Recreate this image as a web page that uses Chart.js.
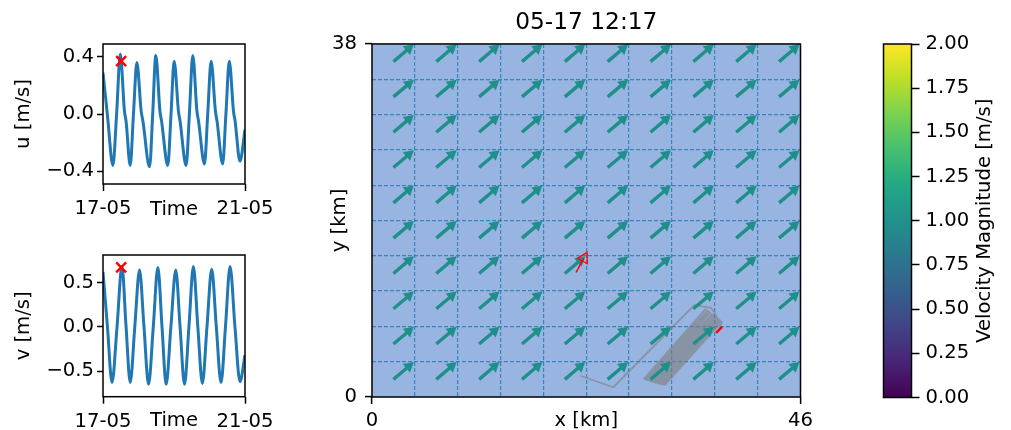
<!DOCTYPE html>
<html>
<head>
<meta charset="utf-8">
<script src="https://cdn.jsdelivr.net/npm/chart.js@4.4.1/dist/chart.umd.min.js"></script>
<style>
  html, body { margin: 0; padding: 0; background: #fff; overflow: hidden; }
  canvas { position: absolute; }
</style>
</head>
<body>
<canvas id="uChart" width="290" height="225" style="left:0px;top:0px"></canvas>
<canvas id="vChart" width="290" height="228" style="left:0px;top:222px"></canvas>
<canvas id="mapChart" width="540" height="450" style="left:300px;top:0px"></canvas>
<canvas id="cbarChart" width="171" height="450" style="left:840px;top:0px"></canvas>
<script>
// Station time series, hours after 17-05 00:00
const uHours = [0, 3.1, 6.7, 9.2, 11.7, 14.5, 15.6, 18.4, 20.6, 22.9, 25.8, 27.0, 31.5, 33.6, 35.7, 38.5, 39.6,
  43.8, 46.0, 48.1, 51.0, 52.1, 56.2, 58.4, 60.7, 63.5, 64.6, 68.6, 70.8, 73.1, 76.0, 77.1, 80.9, 83.1, 85.4,
  88.2, 89.3, 92.6, 96];
const uValues = [0.29, -0.02, -0.36, 0.0, 0.42, 0.02, -0.05, -0.36, 0.0, 0.36, 0.02, -0.05, -0.37, 0.0, 0.41, 0.02, -0.05,
  -0.36, 0.0, 0.37, 0.02, -0.05, -0.36, 0.0, 0.41, 0.02, -0.05, -0.35, 0.0, 0.37, 0.02, -0.05, -0.35, 0.0, 0.37,
  0.02, -0.05, -0.33, -0.11];
const vHours = [0, 3.0, 6.1, 9.5, 12.8, 15.6, 18.4, 21.5, 24.7, 27.7, 30.8, 34.0, 37.1, 39.9, 42.7, 45.9, 49.2,
  52.1, 55.1, 58.1, 61.1, 64.1, 67.2, 70.3, 73.5, 76.6, 79.8, 82.8, 85.9, 89.2, 92.6, 96];
const vValues = [0.62, 0.0, -0.63, 0.0, 0.68, 0.0, -0.63, 0.0, 0.64, 0.0, -0.65, 0.0, 0.67, 0.0, -0.65, 0.0, 0.64,
  0.0, -0.65, 0.0, 0.68, 0.0, -0.64, 0.0, 0.65, 0.0, -0.63, 0.0, 0.68, 0.0, -0.62, -0.32];
const timeTicks = [0, 96];
const timeLabels = ["17-05", "21-05"];
const uTicks = [-0.4, 0, 0.4];
const vTicks = [-0.5, 0, 0.5];
const nowHour = 12.28;
const uNow = 0.37;
const vNow = 0.67;
const frameTitle = "05-17 12:17";

// Map panel (km)
const xGrid = [0, 4.6, 9.2, 13.8, 18.4, 23, 27.6, 32.2, 36.8, 41.4, 46];
const yGrid = [0, 3.8, 7.6, 11.4, 15.2, 19, 22.8, 26.6, 30.4, 34.2, 38];
const quiverX = [2.3, 6.9, 11.5, 16.1, 20.7, 25.3, 29.9, 34.5, 39.1, 43.7];
const quiverY = [1.9, 5.7, 9.5, 13.3, 17.1, 20.9, 24.7, 28.5, 32.3, 36.1];
const fieldU = 0.72;
const fieldV = 0.61;
const stationX = 21.9;
const stationY = 13.4;
const trackX = [22.36, 25.9, 34.6, 36.4, 37.0,
  29.2, 35.8, 29.4, 36.0, 29.6, 36.15, 29.8, 36.3, 30.0, 36.5, 30.2, 36.65, 30.4, 36.8,
  30.6, 36.95, 30.8, 37.1, 31.0, 37.25, 31.2, 37.4, 31.45, 37.55, 37.3];
const trackY = [2.29, 1.05, 9.9, 9.6, 8.7,
  1.95, 9.45, 1.88, 9.3, 1.8, 9.2, 1.72, 9.1, 1.66, 8.95, 1.6, 8.85, 1.54, 8.7,
  1.48, 8.6, 1.43, 8.5, 1.38, 8.38, 1.34, 8.25, 1.3, 8.1, 7.4];
const driftX = [36.94, 37.58];
const driftY = [6.89, 7.54];

// Colour bar
const cbarMin = 0;
const cbarMax = 2;
const cbarTicks = [0, 0.25, 0.5, 0.75, 1, 1.25, 1.5, 1.75, 2];
const cbarTitle = "Velocity Magnitude [m/s]";

const FONT = "'DejaVu Sans', sans-serif";
const viridis = ["#440154", "#482475", "#414487", "#355f8d", "#2a788e", "#21918c",
  "#22a884", "#44bf70", "#7ad151", "#bddf26", "#fde725"];
const arrowScale = 3.07; // km of arrow per m/s
const headFrac = 0.75;
const arrowColor = "#1f8f8a";

Chart.defaults.font.family = FONT;
Chart.defaults.font.size = 19.6;
Chart.defaults.color = "#000";
Chart.defaults.animation = false;
Chart.defaults.plugins.legend.display = false;
Chart.defaults.plugins.tooltip.enabled = false;

const frame = {
  id: "frame",
  afterDraw(chart) {
    const a = chart.chartArea, ctx = chart.ctx;
    ctx.save();
    ctx.strokeStyle = "#000";
    ctx.lineWidth = 1.5;
    ctx.strokeRect(a.left, a.top, a.right - a.left, a.bottom - a.top);
    ctx.restore();
  }
};

const waterFill = {
  id: "waterFill",
  beforeDraw(chart) {
    const a = chart.chartArea, ctx = chart.ctx;
    ctx.save();
    ctx.fillStyle = "#98b5e1";
    ctx.fillRect(a.left, a.top, a.right - a.left, a.bottom - a.top);
    ctx.restore();
  }
};

const cbarLabel = {
  id: "cbarLabel",
  afterDraw(chart) {
    const a = chart.chartArea, ctx = chart.ctx;
    ctx.save();
    ctx.translate(145, (a.top + a.bottom) / 2);
    ctx.rotate(-Math.PI / 2);
    ctx.font = "19.6px " + FONT;
    ctx.fillStyle = "#000";
    ctx.textAlign = "center";
    ctx.textBaseline = "middle";
    ctx.fillText(cbarTitle, 0, 0);
    ctx.restore();
  }
};

const minus = (s) => s.replace("-", "\u2212");
const tickList = (list) => (scale) => { scale.ticks = list.map((value) => ({ value })); };
const isEdge = (ctx) => ctx.index === 0 || ctx.index === ctx.scale.ticks.length - 1;
const edgeLabel = (v, i, t) => (i === 0 || i === t.length - 1 ? String(v) : "");
const toPoints = (xs, ys) => xs.map((x, i) => ({ x, y: ys[i] }));
const headRotation = (u, v) => 90 - Math.atan2(v, u) * 180 / Math.PI;
const axisTicks = { drawOnChartArea: false, tickColor: "#000", tickWidth: 1.5 };

function seriesChart(id, o) {
  return new Chart(document.getElementById(id), {
    type: "scatter",
    data: {
      datasets: [
        { data: [{ x: nowHour, y: o.now }], pointStyle: "crossRot", pointRadius: 7,
          borderColor: "#ff0000", borderWidth: 2.5 },
        { data: toPoints(o.hours, o.values), showLine: true, borderColor: "#1f77b4",
          borderWidth: 3, pointRadius: 0, cubicInterpolationMode: "monotone" }
      ]
    },
    options: {
      responsive: false,
      layout: { padding: { left: 0, top: o.top, right: 45, bottom: 0 } },
      scales: {
        x: {
          type: "linear", min: 0, max: 96,
          afterBuildTicks: tickList(timeTicks),
          afterFit: (s) => { s.height = o.xHeight; },
          ticks: { callback: (v, i) => timeLabels[i], maxRotation: 0, autoSkip: false, padding: 6 },
          grid: { ...axisTicks, tickLength: 7 },
          border: { display: false },
          title: { display: true, text: "Time", padding: { top: 0, bottom: o.titlePad } }
        },
        y: {
          min: o.min, max: o.max,
          afterBuildTicks: tickList(o.ticks),
          afterFit: (s) => { s.width = 103; },
          ticks: { callback: (v) => minus(v.toFixed(1)), padding: 3 },
          grid: { ...axisTicks, tickLength: 6 },
          border: { display: false },
          title: { display: true, text: o.label, padding: { top: 12.4, bottom: 0 } }
        }
      }
    },
    plugins: [frame]
  });
}

seriesChart("uChart", { hours: uHours, values: uValues, now: uNow, ticks: uTicks, min: -0.49, max: 0.49,
  label: "u [m/s]", top: 44, xHeight: 41, titlePad: 3.5 });
seriesChart("vChart", { hours: vHours, values: vValues, now: vNow, ticks: vTicks, min: -0.79, max: 0.81,
  label: "v [m/s]", top: 33, xHeight: 53.3, titlePad: 17.5 });

// quiver arrows: shaft segments plus triangle heads
const shafts = [];
const heads = [];
quiverY.forEach((y) => quiverX.forEach((x) => {
  const ex = x + fieldU * arrowScale * headFrac;
  const ey = y + fieldV * arrowScale * headFrac;
  shafts.push({ x, y }, { x: ex, y: ey }, { x: ex, y: null });
  heads.push({ x: ex, y: ey });
}));
const stEnd = { x: stationX + uNow * arrowScale * headFrac, y: stationY + vNow * arrowScale * headFrac };

new Chart(document.getElementById("mapChart"), {
  type: "scatter",
  data: {
    datasets: [
      { data: [stEnd], pointStyle: "triangle", pointRadius: 6.5, pointRotation: headRotation(uNow, vNow),
        backgroundColor: "rgba(0,0,0,0)", borderColor: "#ff0000", borderWidth: 1.3 },
      { data: [{ x: stationX, y: stationY }, stEnd], showLine: true, borderColor: "#ff0000",
        borderWidth: 1.5, pointRadius: 0 },
      { data: toPoints(driftX, driftY), showLine: true, borderColor: "#ff0000", borderWidth: 2.5, pointRadius: 0 },
      { data: heads, pointStyle: "triangle", pointRadius: 6.5, pointRotation: headRotation(fieldU, fieldV),
        backgroundColor: arrowColor, borderWidth: 0 },
      { data: shafts, showLine: true, spanGaps: false, borderColor: arrowColor, borderWidth: 3.4,
        borderCapStyle: "butt", pointRadius: 0 },
      { data: toPoints(trackX, trackY), showLine: true, borderColor: "rgba(125,125,125,0.6)",
        borderWidth: 1.8, pointRadius: 0, borderJoinStyle: "round" }
    ]
  },
  options: {
    responsive: false,
    layout: { padding: { left: 0, top: 0, right: 39.5, bottom: 0 } },
    plugins: {
      title: { display: true, text: frameTitle, fullSize: false, color: "#000",
        font: { size: 23.3, weight: "normal" }, padding: { top: 9, bottom: 7 } }
    },
    scales: {
      x: {
        type: "linear", min: 0, max: 46,
        afterBuildTicks: tickList(xGrid),
        afterFit: (s) => { s.height = 53; },
        ticks: { callback: edgeLabel, maxRotation: 0, autoSkip: false, padding: 5.5 },
        grid: { color: (c) => (isEdge(c) ? "rgba(0,0,0,0)" : "rgba(31,119,180,0.8)"), lineWidth: 1.2,
          tickLength: 7, tickWidth: 1.5, tickColor: (c) => (isEdge(c) ? "#000" : "rgba(0,0,0,0)") },
        border: { display: false, dash: [4, 2] },
        title: { display: true, text: "x [km]", padding: { top: 0, bottom: 17 } }
      },
      y: {
        min: 0, max: 38,
        afterBuildTicks: tickList(yGrid),
        afterFit: (s) => { s.width = 72; },
        ticks: { callback: edgeLabel, autoSkip: false, padding: 8 },
        grid: { color: (c) => (isEdge(c) ? "rgba(0,0,0,0)" : "rgba(31,119,180,0.8)"), lineWidth: 1.2,
          tickLength: 7, tickWidth: 1.5, tickColor: (c) => (isEdge(c) ? "#000" : "rgba(0,0,0,0)") },
        border: { display: false, dash: [4, 2] },
        title: { display: true, text: "y [km]", padding: { top: 28.4, bottom: 0 } }
      }
    }
  },
  plugins: [waterFill, frame]
});

new Chart(document.getElementById("cbarChart"), {
  type: "bar",
  data: {
    labels: [""],
    datasets: [{
      data: [[cbarMin, cbarMax]],
      barPercentage: 1, categoryPercentage: 1, borderWidth: 0,
      backgroundColor: (ctx) => {
        const a = ctx.chart.chartArea;
        if (!a) return viridis[5];
        const g = ctx.chart.ctx.createLinearGradient(0, a.bottom, 0, a.top);
        viridis.forEach((c, i) => g.addColorStop(i / (viridis.length - 1), c));
        return g;
      }
    }]
  },
  options: {
    responsive: false,
    layout: { padding: { left: 43.5, top: 44, right: 0, bottom: 52.5 } },
    scales: {
      x: { display: false },
      y: {
        position: "right", min: cbarMin, max: cbarMax,
        afterBuildTicks: tickList(cbarTicks),
        afterFit: (s) => { s.width = 99.5; },
        ticks: { callback: (v) => v.toFixed(2), padding: 6 },
        grid: { ...axisTicks, tickLength: 8 },
        border: { display: false }
      }
    }
  },
  plugins: [frame, cbarLabel]
});
</script>
</body>
</html>
